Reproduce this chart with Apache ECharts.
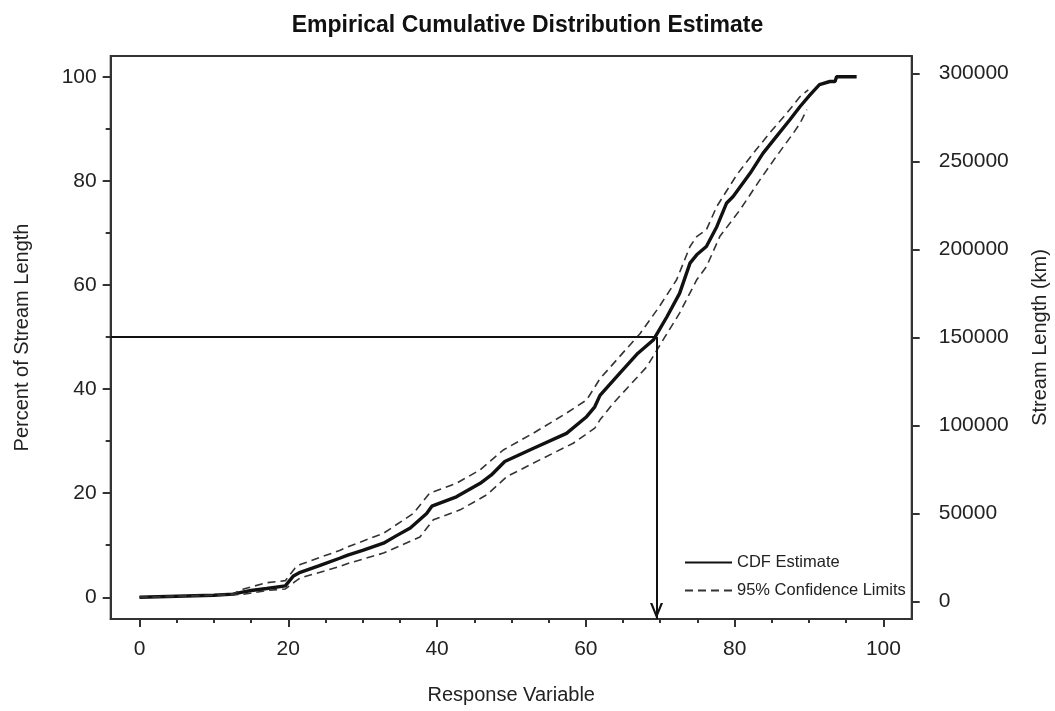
<!DOCTYPE html>
<html>
<head>
<meta charset="utf-8">
<script src="https://cdn.jsdelivr.net/npm/echarts@6/dist/echarts.min.js"></script>
<style>html,body{margin:0;padding:0;background:#fff}#c{width:1055px;height:711px}</style>
</head>
<body>
<div id="c"></div>
<script>
// ---- data ----
const cdfX = [0, 5, 10, 12.6, 13.5, 15, 17.1, 19.6, 20.7, 21.6, 24, 26.9, 28.0, 30, 32.8, 34.5, 36.4, 38.6, 39.3, 42.6, 45.8, 47.3, 49.1, 52.9, 57.4, 60.1, 61.2, 61.9, 64.6, 67.0, 69.1, 70.9, 72.6, 74.0, 74.9, 76.2, 77.6, 78.9, 79.8, 82.1, 83.8, 85.6, 87.4, 88.8, 90.1, 91.4, 92.8, 93.5, 93.7, 96.4];
const cdfY = [0, 0.2, 0.4, 0.6, 0.9, 1.3, 1.7, 2.2, 4.1, 4.8, 6.0, 7.5, 8.1, 9.0, 10.4, 11.8, 13.3, 16.1, 17.5, 19.3, 21.9, 23.5, 26.1, 28.6, 31.5, 34.7, 36.6, 38.8, 43.1, 46.9, 49.5, 53.9, 58.4, 64.2, 65.8, 67.4, 71.2, 75.7, 77.0, 81.5, 85.3, 88.5, 91.7, 94.3, 96.5, 98.5, 99.1, 99.1, 100, 100];

const upperX = [0, 10, 12.6, 14, 17.1, 19.6, 20.9, 21.6, 26.9, 28.0, 32.8, 36.8, 39.0, 42.6, 45.8, 48.9, 52.9, 57.4, 60.1, 61.9, 67.3, 69.9, 72.2, 74.0, 74.9, 76.2, 77.6, 80.3, 82.5, 84.7, 87.0, 88.8, 89.9];
const upperY = [0, 0.4, 0.7, 1.6, 2.8, 3.2, 5.6, 6.3, 9.0, 9.7, 12.3, 16.1, 20.0, 21.9, 24.5, 28.3, 31.5, 35.4, 37.9, 42.0, 50.7, 55.9, 61.0, 67.4, 69.3, 70.6, 75.1, 81.2, 85.3, 89.2, 93.0, 96.2, 97.5];

const lowerX = [0, 10, 12.6, 14, 17.1, 19.6, 20.9, 21.6, 26.9, 28.0, 32.8, 37.7, 39.5, 43.1, 46.7, 49.4, 53.8, 58.3, 61.2, 61.9, 63.7, 68.2, 70.4, 72.6, 74.9, 76.2, 78.0, 80.7, 83.4, 85.6, 87.9, 88.8, 89.7];
const lowerY = [0, 0.4, 0.5, 0.6, 1.3, 1.6, 3.0, 3.7, 5.9, 6.5, 8.5, 11.6, 14.9, 16.8, 19.7, 23.2, 26.4, 29.6, 32.5, 34.1, 37.3, 44.3, 49.5, 54.6, 61.0, 63.5, 69.3, 74.4, 80.2, 84.7, 89.2, 91.1, 93.7];

const xTicks = [0, 20, 40, 60, 80, 100];
const xMinorTicks = [0, 5, 10, 15, 20, 25, 30, 35, 40, 45, 50, 55, 60, 65, 70, 75, 80, 85, 90, 95, 100];
const yTicks = [0, 20, 40, 60, 80, 100];
const yMinorTicks = [10, 30, 50, 70, 90];
const y2Ticks = [0, 50000, 100000, 150000, 200000, 250000, 300000];

const medianLevel = 50;   // horizontal reference (percent)
const medianValue = 69.5; // response value where CDF crosses 50%

const xRange = [-3.87, 103.8];
const yRange = [-4.17, 104.0];
const y2Range = [-9822, 309830];

const zip = (a, b) => a.map((v, i) => [v, b[i]]);

const txt = '#222';
const font = 'Liberation Sans, Arial, sans-serif';
const axisLineStyle = {color: '#333', width: 2};
// open chevron arrowhead; tip sits at the symbol centre (invisible point pads the box)
const arrowHead = 'path://M5,0 L5.01,0 L5,0.01 Z M5,13 L10,26 L8.2,26 L5,17.5 L1.8,26 L0,26 Z';

const chart = echarts.init(document.getElementById('c'), null, {renderer: 'canvas'});
chart.setOption({
  animation: false,
  backgroundColor: '#fff',
  title: {
    text: 'Empirical Cumulative Distribution Estimate',
    left: 'center', top: 9,
    textStyle: {fontFamily: font, fontSize: 23, fontWeight: 'bold', color: '#111'}
  },
  legend: {
    orient: 'vertical', left: 679, top: 549,
    itemWidth: 47, itemHeight: 14, itemGap: 11,
    itemStyle: {opacity: 0},
    textStyle: {fontFamily: font, fontSize: 16.5, color: txt},
    data: ['CDF Estimate', '95% Confidence Limits']
  },
  grid: {
    left: 110.7, right: 143.3, top: 56, bottom: 92,
    show: true, borderColor: '#333', borderWidth: 2,
    containLabel: false, outerBoundsMode: 'none'
  },
  xAxis: [{
    type: 'value', position: 'bottom', min: xRange[0], max: xRange[1],
    name: 'Response Variable', nameLocation: 'middle', nameGap: 66,
    nameTextStyle: {fontFamily: font, fontSize: 20, color: txt},
    axisLine: {show: true, onZero: false, lineStyle: axisLineStyle},
    axisTick: {show: true, customValues: xTicks, length: 8, lineStyle: axisLineStyle},
    axisLabel: {customValues: xTicks, margin: 20, fontFamily: font, fontSize: 21, color: txt},
    splitLine: {show: false}
  }, {
    type: 'value', position: 'bottom', min: xRange[0], max: xRange[1],
    axisLine: {show: false, onZero: false},
    axisTick: {show: true, customValues: xMinorTicks, length: 4, lineStyle: axisLineStyle},
    axisLabel: {show: false},
    splitLine: {show: false}
  }],
  yAxis: [{
    type: 'value', position: 'left', min: yRange[0], max: yRange[1],
    name: 'Percent of Stream Length', nameLocation: 'middle', nameGap: 78, nameRotate: 90,
    nameTextStyle: {fontFamily: font, fontSize: 20, color: txt},
    axisLine: {show: true, onZero: false, lineStyle: axisLineStyle},
    axisTick: {show: true, customValues: yTicks, length: 8, lineStyle: axisLineStyle},
    axisLabel: {customValues: yTicks, margin: 14, fontFamily: font, fontSize: 21, color: txt},
    splitLine: {show: false}
  }, {
    type: 'value', position: 'right', min: y2Range[0], max: y2Range[1],
    name: 'Stream Length (km)', nameLocation: 'middle', nameGap: 119, nameRotate: 90,
    nameTextStyle: {fontFamily: font, fontSize: 20, color: txt},
    axisLine: {show: true, onZero: false, lineStyle: axisLineStyle},
    axisTick: {show: true, customValues: y2Ticks, length: 8, lineStyle: axisLineStyle},
    axisLabel: {customValues: y2Ticks, margin: 27, fontFamily: font, fontSize: 21, color: txt,
      formatter: v => String(Math.round(v))},
    splitLine: {show: false}
  }, {
    type: 'value', position: 'left', min: yRange[0], max: yRange[1],
    axisLine: {show: false, onZero: false},
    axisTick: {show: true, customValues: yMinorTicks, length: 5, lineStyle: axisLineStyle},
    axisLabel: {show: false},
    splitLine: {show: false}
  }],
  series: [{
    name: 'CDF Estimate', type: 'line', xAxisIndex: 0, yAxisIndex: 0,
    data: zip(cdfX, cdfY), symbol: 'none', showSymbol: false,
    lineStyle: {color: '#111', width: 3.4}, itemStyle: {color: '#111'},
    z: 3,
    markLine: {
      silent: true, symbol: ['none', 'none'],
      label: {show: false},
      lineStyle: {color: '#111', width: 2, type: 'solid'},
      data: [
        [{coord: [xRange[0], medianLevel]}, {coord: [medianValue, medianLevel]}],
        [{coord: [medianValue, medianLevel]}, {coord: [medianValue, yRange[0]], symbol: arrowHead, symbolSize: [13, 32]}]
      ]
    }
  }, {
    name: '95% Confidence Limits', type: 'line', xAxisIndex: 0, yAxisIndex: 0,
    data: zip(upperX, upperY), symbol: 'none', showSymbol: false,
    lineStyle: {color: '#333', width: 1.6, type: [8, 5]}, itemStyle: {color: '#333'}
  }, {
    name: '95% Confidence Limits', type: 'line', xAxisIndex: 0, yAxisIndex: 0,
    data: zip(lowerX, lowerY), symbol: 'none', showSymbol: false,
    lineStyle: {color: '#333', width: 1.6, type: [8, 5]}, itemStyle: {color: '#333'}
  }]
});
</script>
</body>
</html>
